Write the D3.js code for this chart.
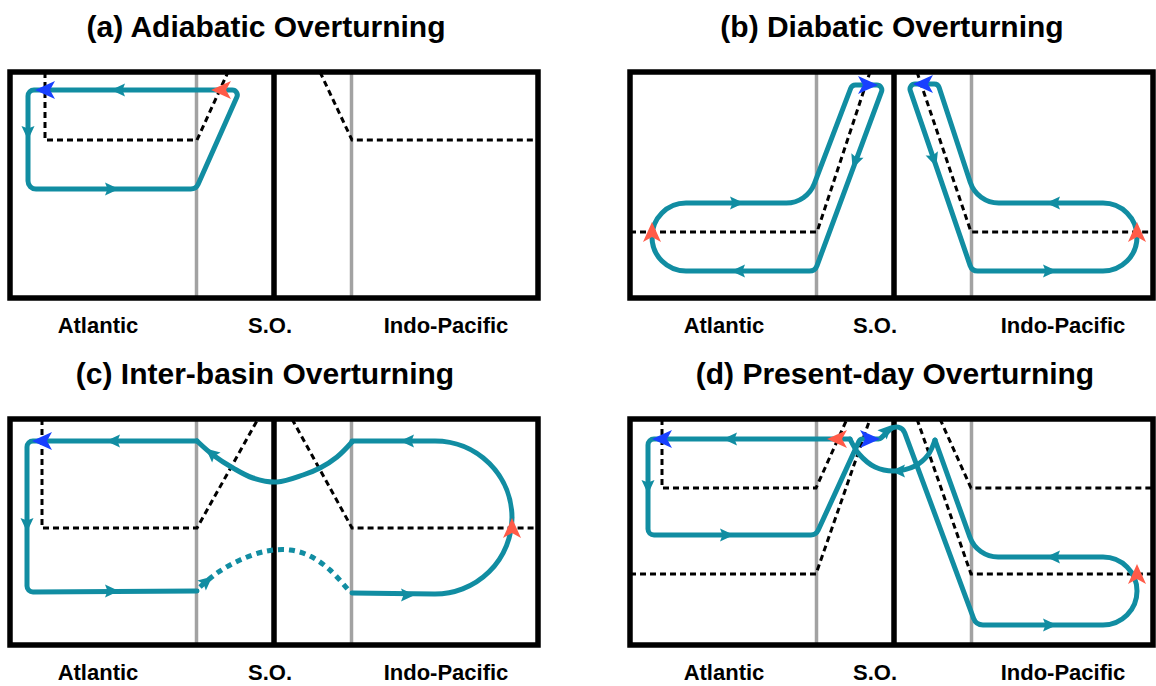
<!DOCTYPE html>
<html>
<head>
<meta charset="utf-8">
<script src="https://cdn.jsdelivr.net/npm/d3@7"></script>
<style>
  body { margin: 0; background: #fff; }
  text { font-family: "Liberation Sans", Arial, sans-serif; font-weight: bold; fill: #000; }
</style>
</head>
<body>
<script>
var width = 1156;
var height = 686;

// ---- chart content (panel units: x from west wall, y down from surface) ----
var titles = ["(a) Adiabatic Overturning", "(b) Diabatic Overturning",
              "(c) Inter-basin Overturning", "(d) Present-day Overturning"];
var basinNames = ["Atlantic", "S.O.", "Indo-Pacific"];
var basinEdges = [186.5, 341.5];
var soWall = 264;

// dashed isopycnals
var isoA = [[[35,0],[35,68],[187,68],[218,0]], [[310,0],[342,68],[528,68]]];
var isoB = [[[0,160],[187,160],[240,0]], [[287,0],[341,160],[523,160]]];
var isoC = [[[32,0],[32,109],[187,109],[248,0]], [[282,0],[342,109],[528,109]]];
var isoD = [[[32,0],[32,69],[186,69],[217,0]], [[0,155],[186,155],[240,0]],
            [[310,0],[341,69],[523,69]], [[287,0],[341,155],[523,155]]];

// overturning paths with rounded corners [x, y, corner radius]
var loopsA = [{closed: true, pts: [[230,18,5],[18,18,6],[18,117,8],[186,117,8]]}];
var loopsB = [{closed: true, pts: [[22,199,34],[22,131,34],[177,131,30],[222,13,5],[254,13,5],[185,199,8]]},
              {closed: true, pts: [[278,12,5],[342,199,8],[507,199,34],[507,131,34],[347,131,30],[308,12,5]]}];
var loopsC = [{closed: false, pts: [[187,22],[17,22,6],[17,173,6],[187,172]]},
              {closed: false, pts: [[342,22],[502,22,77],[502,176,77],[342,174]]}];
var loopsD = [{closed: false, pts: [[220,20],[18,20,6],[18,116,6],[186,116,8],[230,20,4],[250,20,4],
                                    [270,1,9],[346,206,10],[507,206,34],[507,138,34],[347,138,30],[305,21]]}];

// smooth pieces across the Southern Ocean
var curvesC = [{dotted: false, pts: [[187,22],[203,36],[223,49],[243,59],[267,63],[293,56],[310,49],[327,38],[342,23]]},
               {dotted: true,  pts: [[190,168],[207,154],[230,141],[257,132],[280,131],[300,137],[320,151],[340,173]]}];
var curvesD = [{dotted: false, pts: [[305,21],[298,36],[285,47],[264,52],[245,48],[229,35],[220,20]]}];

// arrowheads: position, direction, kind
var arrowsA = [{p:[108,18], d:[-1,0], k:"flow"}, {p:[18,61], d:[0,1], k:"flow"}, {p:[102,117], d:[1,0], k:"flow"},
               {p:[35,18], d:[-1,0], k:"blue"}, {p:[211,18], d:[-1,0], k:"red"}];
var arrowsB = [{p:[107,131], d:[1,0], k:"flow"}, {p:[108,199], d:[-1,0], k:"flow"}, {p:[225,90], d:[-0.37,1], k:"flow"},
               {p:[238,13], d:[1,0], k:"blue"}, {p:[22,160], d:[0,-1], k:"red"},
               {p:[423,131], d:[-1,0], k:"flow"}, {p:[420,199], d:[1,0], k:"flow"}, {p:[304,88], d:[0.34,1], k:"flow"},
               {p:[293,12], d:[-1,0], k:"blue"}, {p:[507,160], d:[0,-1], k:"red"}];
var arrowsC = [{p:[103,22], d:[-1,0], k:"flow"}, {p:[17,106], d:[0,1], k:"flow"}, {p:[102,172], d:[1,0], k:"flow"},
               {p:[201,34], d:[-1,-0.85], k:"flow"}, {p:[32,22], d:[-1,0], k:"blue"},
               {p:[397,22], d:[-1,0], k:"flow"}, {p:[398,176], d:[1,0], k:"flow"}, {p:[502,109], d:[0,-1], k:"red"},
               {p:[197,162], d:[1,-0.85], k:"flow"}];
var arrowsD = [{p:[32,20], d:[-1,0], k:"blue"}, {p:[100,20], d:[-1,0], k:"flow"}, {p:[207,20], d:[-1,0], k:"red"},
               {p:[18,68], d:[0,1], k:"flow"}, {p:[97,116], d:[1,0], k:"flow"}, {p:[240,20], d:[1,0], k:"blue"},
               {p:[257,11], d:[1,-1], k:"flow"}, {p:[268,52], d:[-1,0], k:"flow"},
               {p:[423,138], d:[-1,0], k:"flow"}, {p:[420,206], d:[1,0], k:"flow"}, {p:[507,155], d:[0,-1], k:"red"}];

// ---- layout ----
var boxes = [
  {x: 10,  y: 72,  w: 528, h: 226, tx: 266, lx: [88, 260, 436]},
  {x: 630, y: 72,  w: 523, h: 226, tx: 892, lx: [94, 245, 433]},
  {x: 10,  y: 419, w: 528, h: 226, tx: 265, lx: [88, 260, 436]},
  {x: 630, y: 419, w: 523, h: 226, tx: 895, lx: [94, 245, 433]}
];
var specs = [
  {iso: isoA, loops: loopsA, curves: [],      arrows: arrowsA},
  {iso: isoB, loops: loopsB, curves: [],      arrows: arrowsB},
  {iso: isoC, loops: loopsC, curves: curvesC, arrows: arrowsC},
  {iso: isoD, loops: loopsD, curves: curvesD, arrows: arrowsD}
];

var teal = "#118da2";
var arrowFill = {flow: teal, blue: "#1840ff", red: "#ff5b48"};
var arrowShape = {
  flow: "M7,0L-7,-6.5L-4.5,0L-7,6.5Z",
  blue: "M10,0L-10,-9L-5,0L-10,9Z",
  red:  "M10,0L-10,-9L-5,0L-10,9Z"
};

var svg = d3.select("body").append("svg")
      .attr("width", width)
      .attr("height", height);

function roundedPath(pts, closed, x, y) {
  var p = d3.path(), n = pts.length;
  var P = pts.map(function (d) { return [x(d[0]), y(d[1]), d[2] || 0]; });
  if (closed) {
    p.moveTo((P[n-1][0] + P[0][0]) / 2, (P[n-1][1] + P[0][1]) / 2);
    for (var i = 0; i < n; i++) {
      var nx = P[(i + 1) % n];
      p.arcTo(P[i][0], P[i][1], nx[0], nx[1], P[i][2]);
    }
    p.closePath();
  } else {
    p.moveTo(P[0][0], P[0][1]);
    for (var j = 1; j < n - 1; j++) p.arcTo(P[j][0], P[j][1], P[j+1][0], P[j+1][1], P[j][2]);
    p.lineTo(P[n-1][0], P[n-1][1]);
  }
  return p.toString();
}

function drawPanel(i) {
  var b = boxes[i], s = specs[i];
  var x = d3.scaleLinear().domain([0, b.w]).range([b.x, b.x + b.w]);
  var y = d3.scaleLinear().domain([0, b.h]).range([b.y, b.y + b.h]);
  var g = svg.append("g");

  // grey basin edges
  g.selectAll("line.edge").data(basinEdges).enter().append("line")
    .attr("x1", function (d) { return x(d); }).attr("x2", function (d) { return x(d); })
    .attr("y1", y(0)).attr("y2", y(b.h))
    .attr("stroke", "#a2a2a2").attr("stroke-width", 3.5);

  // frame + Southern Ocean wall
  g.append("rect")
    .attr("x", x(0)).attr("y", y(0)).attr("width", x(b.w) - x(0)).attr("height", y(b.h) - y(0))
    .attr("fill", "none").attr("stroke", "#000").attr("stroke-width", 5.5);
  g.append("line")
    .attr("x1", x(soWall)).attr("x2", x(soWall)).attr("y1", y(0)).attr("y2", y(b.h))
    .attr("stroke", "#000").attr("stroke-width", 5.5);

  // isopycnals
  var line = d3.line().x(function (d) { return x(d[0]); }).y(function (d) { return y(d[1]); });
  g.selectAll("path.iso").data(s.iso).enter().append("path")
    .attr("d", line)
    .attr("fill", "none").attr("stroke", "#000").attr("stroke-width", 3)
    .attr("stroke-dasharray", "6,4");

  // overturning
  g.selectAll("path.loop").data(s.loops).enter().append("path")
    .attr("d", function (d) { return roundedPath(d.pts, d.closed, x, y); })
    .attr("fill", "none").attr("stroke", teal).attr("stroke-width", 5)
    .attr("stroke-linejoin", "round").attr("stroke-linecap", "round");

  var smooth = d3.line().x(function (d) { return x(d[0]); }).y(function (d) { return y(d[1]); })
      .curve(d3.curveCatmullRom.alpha(0.5));
  g.selectAll("path.curve").data(s.curves).enter().append("path")
    .attr("d", function (d) { return smooth(d.pts); })
    .attr("fill", "none").attr("stroke", teal).attr("stroke-width", 5)
    .attr("stroke-linecap", function (d) { return d.dotted ? "butt" : "round"; })
    .attr("stroke-dasharray", function (d) { return d.dotted ? "6,5" : null; });

  // arrowheads
  g.selectAll("path.arrow").data(s.arrows).enter().append("path")
    .attr("d", function (d) { return arrowShape[d.k]; })
    .attr("fill", function (d) { return arrowFill[d.k]; })
    .attr("transform", function (d) {
      var a = Math.atan2(d.d[1], d.d[0]) * 180 / Math.PI;
      return "translate(" + x(d.p[0]) + "," + y(d.p[1]) + ") rotate(" + a + ")";
    });

  // title and basin names
  g.append("text")
    .attr("x", b.tx).attr("y", y(0) - 35)
    .attr("text-anchor", "middle").attr("font-size", 30)
    .text(titles[i]);
  g.selectAll("text.basin").data(basinNames).enter().append("text")
    .attr("x", function (d, j) { return x(b.lx[j]); })
    .attr("y", y(b.h) + 35)
    .attr("text-anchor", "middle").attr("font-size", 22)
    .text(function (d) { return d; });
}

for (var i = 0; i < boxes.length; i++) drawPanel(i);
</script>
</body>
</html>
